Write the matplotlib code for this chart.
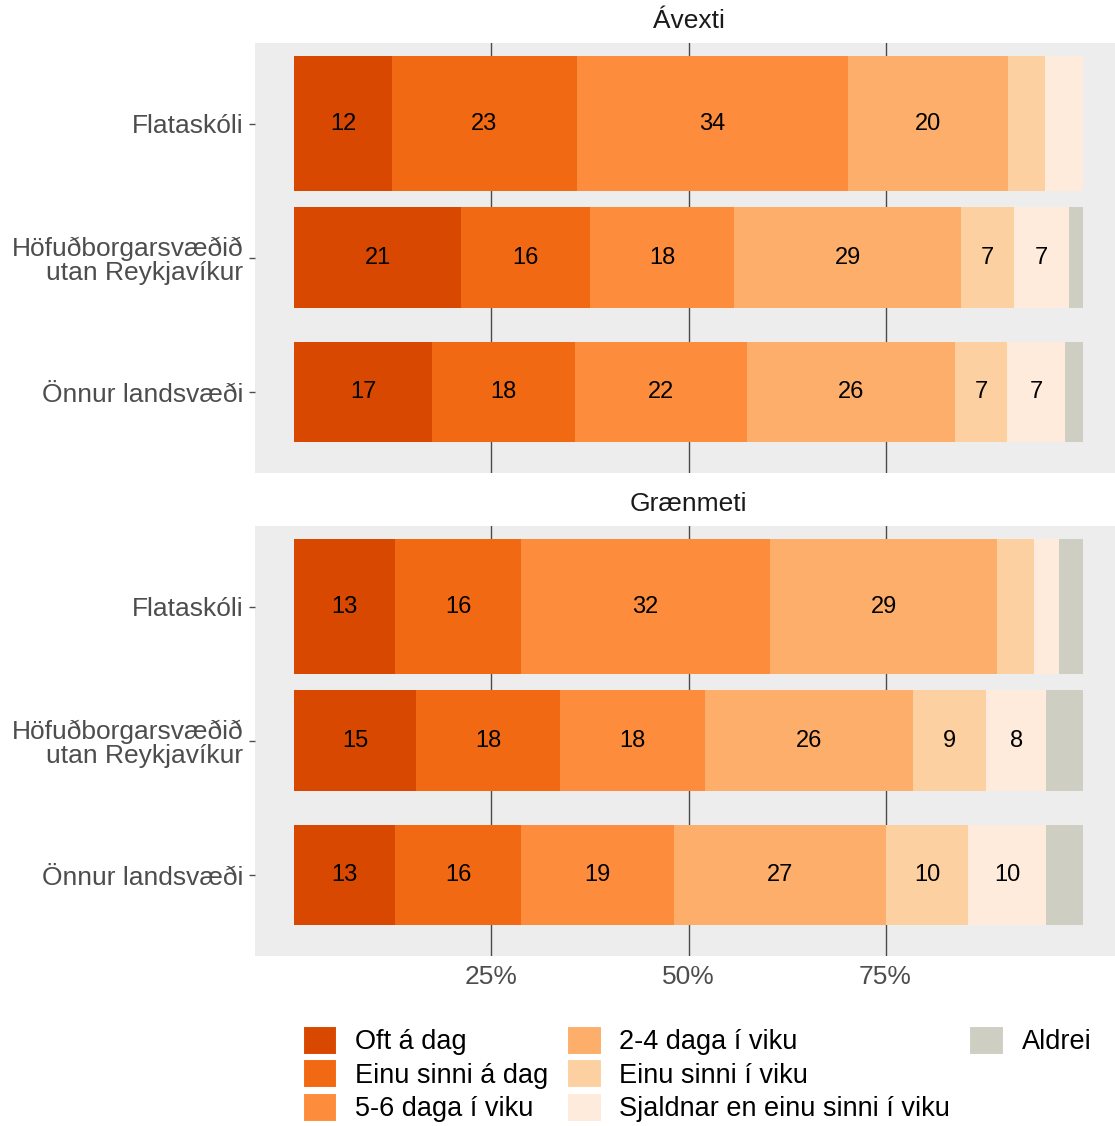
import numpy as np
import matplotlib.pyplot as plt
import matplotlib as mpl
from matplotlib.patches import Patch

categories = ["Flataskóli", "Höfuðborgarsvæðið\nutan Reykjavíkur", "Önnur landsvæði"]
responses = ["Oft á dag", "Einu sinni á dag", "5-6 daga í viku", "2-4 daga í viku",
             "Einu sinni í viku", "Sjaldnar en einu sinni í viku", "Aldrei"]
colors = ["#D94801", "#F16913", "#FD8D3C", "#FDAE6B", "#FDD0A2", "#FEEBDC", "#CECEC2"]

# percent per response, one row per category
avexti = [
    [12.4, 23.4, 34.4, 20.3, 4.7, 4.8, 0.0],
    [21.1, 16.4, 18.3, 28.8, 6.7, 7.0, 1.7],
    [17.4, 18.2, 21.8, 26.4, 6.6, 7.4, 2.2],
]
graenmeti = [
    [12.8, 15.9, 31.7, 28.7, 4.7, 3.2, 3.0],
    [15.4, 18.3, 18.4, 26.4, 9.3, 7.6, 4.6],
    [12.7, 16.1, 19.3, 27.0, 10.4, 9.8, 4.7],
]
panels = [("Ávexti", avexti), ("Grænmeti", graenmeti)]
bar_heights = [1.0, 0.75, 0.75]

mpl.rcParams['font.family'] = ['Liberation Sans', 'DejaVu Sans']
W, H = 1115, 1126
fig = plt.figure(figsize=(W / 100, H / 100), dpi=100)

left, right = 255, 1122
boxes = [(43, 472.7), (526, 955.7)]
ypos = np.arange(1, len(categories) + 1)

for i, ((title, data), (top, bot)) in enumerate(zip(panels, boxes)):
    ax = fig.add_axes([left / W, 1 - bot / H, (right - left) / W, (bot - top) / H])
    ax.set_facecolor("#EDEDED")
    for s in ax.spines.values():
        s.set_visible(False)
    vals = np.array(data) / 100.0
    start = np.zeros(len(categories))
    for j, resp in enumerate(responses):
        ax.barh(ypos, vals[:, j], left=start, height=bar_heights,
                color=colors[j], linewidth=0, zorder=2)
        for k in range(len(categories)):
            v = data[k][j]
            if round(v) >= 6:
                ax.text(start[k] + vals[k, j] / 2, ypos[k], f"{round(v):d}",
                        ha="center", va="center", fontsize=17, color="black", zorder=3)
        start += vals[:, j]
    ax.set_xlim(-0.05, 1.05)
    ax.set_ylim(3.6, 0.4)
    ax.set_xticks([0.25, 0.5, 0.75])
    ax.xaxis.grid(True, color="#4A4A4A", linewidth=1.0, zorder=1)
    ax.set_axisbelow(True)
    ax.set_yticks(ypos)
    ax.set_yticklabels(categories, fontsize=19, color="#4D4D4D", linespacing=1.0)
    ax.tick_params(axis="y", length=4.5, width=1, color="#4D4D4D", pad=4)
    if i == 0:
        ax.tick_params(axis="x", length=0, labelbottom=False)
    else:
        ax.set_xticklabels(["25%", "50%", "75%"])
        ax.tick_params(axis="x", length=0, labelsize=19, labelcolor="#4D4D4D", pad=7)
    ax.set_title(title, fontsize=19, color="#1A1A1A", pad=11)

handles = [Patch(facecolor=c, edgecolor="white", linewidth=1.5) for c in colors]
labels = list(responses)
# pad so columns hold 3, 3 and 1 entries
handles += [Patch(facecolor="none", edgecolor="none")] * 2
labels += ["", ""]
fig.legend(handles, labels, ncol=3, loc="center", bbox_to_anchor=(697 / W, 1 - 1074 / H),
           frameon=False, fontsize=19.5, handlelength=1.28, handleheight=1.28,
           handletextpad=0.65, columnspacing=0.7, labelspacing=0.14, borderpad=0)

fig.savefig("out.png", dpi=100)
